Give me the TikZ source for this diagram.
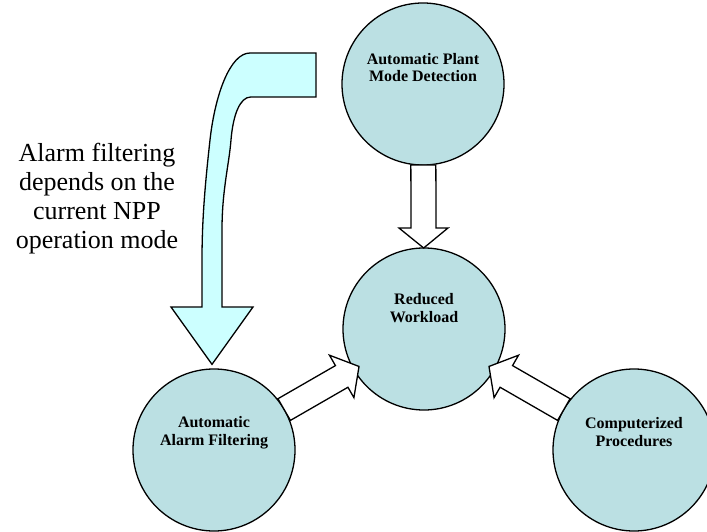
\documentclass[tikz,border=0pt]{standalone}
\usepackage{fontspec}
\setmainfont{Liberation Serif}
\usetikzlibrary{calc}
\definecolor{circfill}{HTML}{BBE0E3}
\definecolor{bigfill}{HTML}{CCFFFF}
\tikzset{
  circ/.style={circle, draw=black, line width=1.3pt, fill=circfill, minimum size=162pt, inner sep=0pt},
  lbl/.style={align=center, font=\fontsize{16}{18}\selectfont\bfseries, inner sep=0pt},
  blockarr/.style={draw=black, fill=white, line width=1.3pt, line join=miter},
  bigarr/.style={draw=black, fill=bigfill, line width=1.3pt, line join=miter},
  note/.style={align=center, font=\fontsize{26}{29}\selectfont, inner sep=0pt}
}
\newcommand\blockarrow[3]{%
  \coordinate (#3h) at ($(#2)!20pt!(#1)$);
  \draw[blockarr] ($(#1)!12.5pt!90:(#2)$) -- ($(#3h)!12.5pt!90:(#2)$)
    -- ($(#3h)!24.5pt!90:(#2)$) -- (#2) -- ($(#3h)!24.5pt!-90:(#2)$)
    -- ($(#3h)!12.5pt!-90:(#2)$) -- ($(#1)!12.5pt!-90:(#2)$) -- cycle;
}
\begin{document}
\begin{tikzpicture}[x=1pt, y=-1pt]
\useasboundingbox (0,0) rectangle (707,532);
% circles
\node[circ] (top) at (423,84) {};
\node[circ] (mid) at (424,329) {};
\node[circ] (bl) at (214,450) {};
\node[circ] (br) at (634,450) {};
% labels
\node[lbl, font=\fontsize{16}{16.5}\selectfont\bfseries] (ltop) at ($(top)+(0,-16.5)$) {Automatic Plant\\Mode Detection};
\node[lbl] (lmid) at ($(mid)+(0,-21)$) {Reduced\\Workload};
\node[lbl] (lbl) at ($(bl)+(0,-17)$) {Automatic\\Alarm Filtering};
\node[lbl] (lbr) at ($(br)+(0,-18)$) {Computerized\\Procedures};
% block arrows
\coordinate (s1) at ($(top)!81pt!(mid)$);
\coordinate (t1) at ($(mid)!81pt!(top)$);
\blockarrow{s1}{t1}{a1}
\coordinate (s2) at ($(bl)!81pt!(mid)$);
\coordinate (t2) at ($(mid)!75pt!(bl)$);
\blockarrow{s2}{t2}{a2}
\coordinate (s3) at ($(br)!81pt!(mid)$);
\coordinate (t3) at ($(mid)!75pt!(br)$);
\blockarrow{s3}{t3}{a3}
% big curved arrow
\coordinate (btip) at ($(bl.north)+(-2,-4)$);
\draw[bigarr] (316,53) -- (250,53) .. controls (230,53) and (215,95) .. (210,140)
  .. controls (205,185) and (202,220) .. (202,260) -- (202,307) -- (171,307)
  -- (btip) -- (253,307) -- (222,307) -- (222,230)
  .. controls (222,190) and (229,165) .. (231,140)
  .. controls (233,115) and (240,97) .. (250.7,97) -- (316,97) -- cycle;
% note
\node[note] (note) at (97,199) {Alarm filtering\\depends on the\\current NPP\\operation mode};
\end{tikzpicture}
\end{document}
